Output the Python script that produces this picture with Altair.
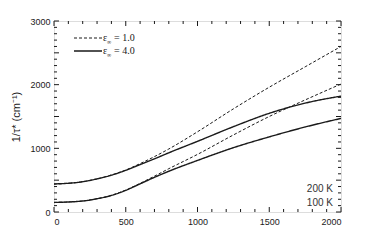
import altair as alt
import pandas as pd

# ---- data ----
x_vals = [0, 200, 300, 400, 500, 600, 700, 800, 1000, 1250, 1500, 1750, 2000]
eps1_200K = [440, 476, 522, 582, 660, 760, 870, 990, 1260, 1620, 1960, 2280, 2600]
eps4_200K = [440, 476, 520, 578, 655, 745, 835, 930, 1110, 1340, 1550, 1710, 1820]
eps1_100K = [150, 173, 210, 262, 345, 450, 563, 680, 905, 1210, 1500, 1760, 2010]
eps4_100K = [150, 173, 208, 260, 340, 442, 545, 640, 810, 1010, 1180, 1335, 1470]

x_major = [0, 500, 1000, 1500, 2000]
y_major = [0, 500, 1000, 1500, 2000, 2500, 3000]
x_minor = [v for v in range(0, 2001, 100) if v not in x_major]
y_minor = [v for v in range(0, 3001, 100) if v not in y_major]

series = [
    ("1.0", "200 K", eps1_200K),
    ("4.0", "200 K", eps4_200K),
    ("1.0", "100 K", eps1_100K),
    ("4.0", "100 K", eps4_100K),
]
rows = []
for eps, temp, vals in series:
    for x, y in zip(x_vals, vals):
        rows.append({"x": x, "y": y, "eps": eps, "temp": temp})
df = pd.DataFrame(rows)

W, H = 287, 191
INK = "#1a1a1a"
FONT = "Liberation Sans"

xs = alt.Scale(domain=[0, 2000], nice=False)
ys = alt.Scale(domain=[0, 3000], nice=False)

base = alt.Chart(df)

lines = base.mark_line(interpolate="monotone", color=INK).encode(
    x=alt.X("x:Q", scale=xs,
            axis=alt.Axis(values=x_major, format="d", title=None, ticks=False, domain=False, grid=False,
                          labelFont=FONT, labelFontSize=9, labelColor=INK, labelPadding=5)),
    y=alt.Y("y:Q", scale=ys,
            axis=alt.Axis(values=y_major, format="d", title="1/τ* (cm⁻¹)", ticks=False, domain=False,
                          grid=False, labelFont=FONT, labelFontSize=9, labelColor=INK, labelPadding=4,
                          titleFont=FONT, titleFontSize=11, titleFontWeight="normal",
                          titleColor=INK, titlePadding=8)),
    strokeDash=alt.StrokeDash("eps:N", scale=alt.Scale(domain=["1.0", "4.0"], range=[[3, 2], [1, 0]]), legend=None),
    strokeWidth=alt.StrokeWidth("eps:N", scale=alt.Scale(domain=["1.0", "4.0"], range=[1.0, 1.4]), legend=None),
    detail="temp:N",
)

def tick_layer(vals, axis, length):
    d = pd.DataFrame({"v": vals})
    c = alt.Chart(d).mark_rule(color=INK, strokeWidth=1)
    if axis == "xb":
        return c.encode(x=alt.X("v:Q", scale=xs), y=alt.value(H), y2=alt.value(H - length))
    if axis == "xt":
        return c.encode(x=alt.X("v:Q", scale=xs), y=alt.value(0), y2=alt.value(length))
    if axis == "yl":
        return c.encode(y=alt.Y("v:Q", scale=ys), x=alt.value(0), x2=alt.value(length))
    return c.encode(y=alt.Y("v:Q", scale=ys), x=alt.value(W), x2=alt.value(W - length))

ticks = [
    tick_layer(x_major, "xb", 5), tick_layer(x_minor, "xb", 3),
    tick_layer(x_major, "xt", 5), tick_layer(x_minor, "xt", 3),
    tick_layer(y_major, "yl", 5), tick_layer(y_minor, "yl", 3),
    tick_layer(y_major, "yr", 5), tick_layer(y_minor, "yr", 3),
]

# legend
leg_y = {0: 17, 1: 30}
leg_layers = []
for eps, row, dash, sw in [("1.0", 0, [3, 2], 1.0), ("4.0", 1, [1, 0], 1.4)]:
    ly = leg_y[row]
    one = pd.DataFrame({"eps": [eps]})
    leg_layers.append(alt.Chart(one).mark_rule(color=INK, strokeDash=dash, strokeWidth=sw).encode(
        x=alt.value(20), x2=alt.value(48), y=alt.value(ly)))
    leg_layers.append(alt.Chart(one).mark_text(text="ε", font="Liberation Serif", fontSize=10,
                                               align="left", baseline="middle", color=INK).encode(
        x=alt.value(49), y=alt.value(ly)))
    leg_layers.append(alt.Chart(one).mark_text(text="∞", font="Liberation Serif", fontSize=6,
                                               align="left", baseline="middle", color=INK).encode(
        x=alt.value(53), y=alt.value(ly + 4)))
    leg_layers.append(alt.Chart(one).mark_text(text="= " + eps, font="Liberation Serif", fontSize=10,
                                               align="left", baseline="middle", color=INK).encode(
        x=alt.value(60), y=alt.value(ly)))

temp_df = pd.DataFrame({"t": ["200 K", "100 K"], "yy": [168, 182]})
temps = alt.Chart(temp_df).mark_text(font=FONT, fontSize=10, align="right", baseline="middle",
                                     color="#333").encode(
    text="t:N", x=alt.value(W - 8), y=alt.Y("yy:Q", scale=None))

chart = alt.layer(lines, *ticks, *leg_layers, temps).properties(
    width=W, height=H,
    autosize=alt.AutoSizeParams(type="none"),
    padding={"left": 46, "top": 13, "right": 30, "bottom": 25},
).configure_view(stroke=INK, strokeWidth=1.2).configure(background="white")

chart.save("out.html", embed_options={"renderer": "svg", "actions": False})
